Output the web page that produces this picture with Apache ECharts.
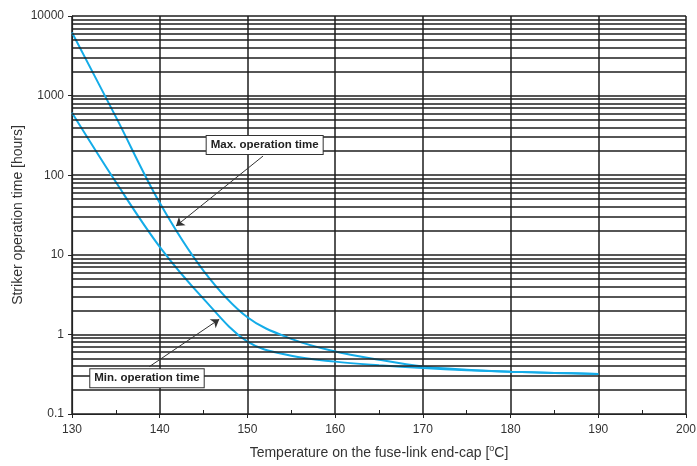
<!DOCTYPE html>
<html><head><meta charset="utf-8">
<script src="https://cdn.jsdelivr.net/npm/echarts@6/dist/echarts.min.js"></script>
<style>html,body{margin:0;padding:0;background:#fff}#c{width:697px;height:466px}</style>
</head><body><div id="c"></div>
<script>
const temps   = [130, 135, 140, 145, 150, 155, 160, 165, 170, 175, 180, 185, 190];
const maxTime = [6200, 540, 45, 6.3, 1.64, 0.88, 0.61, 0.48, 0.395, 0.36, 0.34, 0.328, 0.318];
const minTime = [610, 82, 12.6, 2.8, 0.81, 0.54, 0.455, 0.41, 0.378, 0.355, 0.34, 0.328, 0.318];
const yTickLabels = { '0.1': '0.1', '1': '1', '10': '10', '100': '100', '1000': '1000', '10000': '10000' };
const minorGrid = [];
[0.1, 1, 10, 100, 1000].forEach(d => { for (let k = 2; k <= 9; k++) minorGrid.push(+(d * k).toPrecision(3)); });
const maxLabel = { text: 'Max. operation time', at: [145.24, 320] };
const minLabel = { text: 'Min. operation time', at: [131.97, 0.375] };
const maxArrow = [[151.78, 174], [141.86, 23]];
const minArrow = [[138.81, 0.393], [146.79, 1.55]];

const FONT = 'Liberation Sans, Arial, sans-serif';
const GRID_C = '#1e1e1e';
const chart = echarts.init(document.getElementById('c'));
const option = {
  animation: false,
  grid: { left: 72, right: 11, top: 16, bottom: 52, containLabel: false, outerBoundsMode: 'none' },
  xAxis: {
    type: 'value', min: 130, max: 200, interval: 10,
    name: 'Temperature on the fuse-link end-cap [{sup|o}C]',
    nameLocation: 'middle', nameGap: 30, nameMoveOverlap: false,
    nameTextStyle: { fontFamily: FONT, fontSize: 14, color: '#333',
      rich: { sup: { fontFamily: FONT, fontSize: 9, color: '#333', verticalAlign: 'top', padding: [0, 0, 10, 0] } } },
    axisLine: { lineStyle: { color: '#222', width: 1.2 } },
    axisTick: { show: true, length: 4, lineStyle: { color: '#222' } },
    minorTick: { show: true, splitNumber: 2, length: -4, lineStyle: { color: '#222' } },
    axisLabel: { fontFamily: FONT, fontSize: 12, color: '#333', margin: 10 },
    splitLine: { show: true, lineStyle: { color: GRID_C, width: 1.5 } }
  },
  yAxis: {
    type: 'log', logBase: 10, min: 0.1, max: 10000,
    name: 'Striker operation time [hours]',
    nameLocation: 'middle', nameGap: 47, nameMoveOverlap: false,
    nameTextStyle: { fontFamily: FONT, fontSize: 14, color: '#333' },
    axisLine: { lineStyle: { color: '#222', width: 1.2 } },
    axisTick: { show: true, length: 4, lineStyle: { color: '#222' } },
    axisLabel: { fontFamily: FONT, fontSize: 12, color: '#333', margin: 8,
      formatter: v => yTickLabels[String(+v.toPrecision(3))] || String(+v.toPrecision(3)) },
    splitLine: { show: true, lineStyle: { color: GRID_C, width: 1.5 } }
  },
  series: [
    {
      type: 'line', data: [], silent: true,
      markLine: {
        silent: true, symbol: ['none', 'none'], animation: false,
        label: { show: false },
        lineStyle: { color: GRID_C, width: 1.5, type: 'solid' },
        data: minorGrid.map(v => ({ yAxis: v }))
      }
    },
    {
      type: 'line', smooth: 0.35, showSymbol: false,
      data: temps.map((t, i) => [t, maxTime[i]]),
      lineStyle: { color: '#14ace8', width: 2 }
    },
    {
      type: 'line', smooth: 0.35, showSymbol: false,
      data: temps.map((t, i) => [t, minTime[i]]),
      lineStyle: { color: '#14ace8', width: 2 },
      markLine: {
        silent: true, symbol: ['none', 'arrow'], symbolSize: 8, animation: false,
        label: { show: false },
        lineStyle: { color: '#333', width: 1, type: 'solid' },
        data: [
          [{ coord: maxArrow[0] }, { coord: maxArrow[1] }],
          [{ coord: minArrow[0] }, { coord: minArrow[1] }]
        ]
      }
    }
  ]
};
chart.setOption(option);
function box(lbl) {
  const p = chart.convertToPixel({ gridIndex: 0 }, lbl.at);
  return {
    type: 'text', left: p[0], top: p[1], z: 100,
    style: {
      text: lbl.text, fontFamily: FONT, fontSize: 11.5, fontWeight: 'bold', fill: '#222',
      backgroundColor: '#fff', borderColor: '#333', borderWidth: 1, padding: [3, 4, 3, 4]
    }
  };
}
chart.setOption({ graphic: [box(maxLabel), box(minLabel)] });
</script>
</body></html>
